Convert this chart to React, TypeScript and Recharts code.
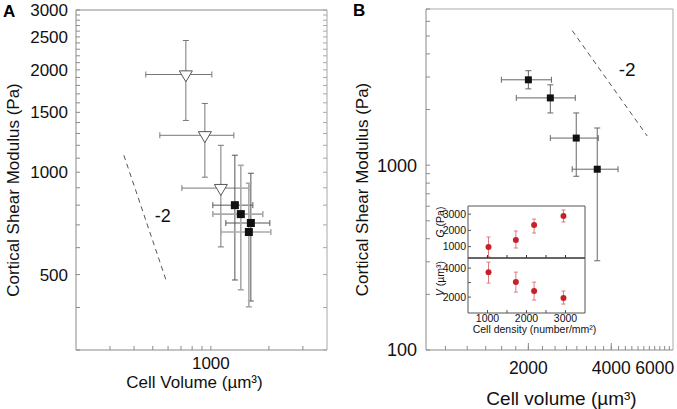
import React from 'react';
import { ScatterChart, Scatter, XAxis, YAxis, ErrorBar, ReferenceLine, ReferenceDot, Label } from 'recharts';

const FONT = '"Liberation Sans", Arial, Helvetica, sans-serif';

// ---------- Panel A data ----------
const aTriVolume = [742, 931, 1127];
const aTriVolumeLow = [460, 544, 708];
const aTriVolumeHigh = [1012, 1316, 1574];
const aTriModulus = [1938, 1284, 898];
const aTriModulusLow = [1420, 967, 603];
const aTriModulusHigh = [2440, 1593, 1200];

const aSqDarkVolume = [1332, 1612];
const aSqDarkVolumeLow = [1024, 1196];
const aSqDarkVolumeHigh = [1651, 2022];
const aSqDarkModulus = [800, 709];
const aSqDarkModulusLow = [482, 418];
const aSqDarkModulusHigh = [1122, 993];

const aSqLightVolume = [1430, 1574];
const aSqLightVolumeLow = [1024, 1127];
const aSqLightVolumeHigh = [1859, 2045];
const aSqLightModulus = [753, 667];
const aSqLightModulusLow = [451, 402];
const aSqLightModulusHigh = [1048, 928];

const aSlopeVolume = [354, 592];
const aSlopeModulus = [1122, 473];
const aSlopeLabelAt = [564, 743];

const aXTicks = [300, 400, 500, 600, 700, 800, 900, 1000, 2000, 3000];
const aXLabels = [1000];
const aYTicks = [300, 400, 500, 600, 700, 800, 900, 1000, 1100, 1200, 1300, 1400, 1500, 1600, 1700, 1800, 1900, 2000, 2100, 2200, 2300, 2400, 2500, 2600, 2700, 2800, 2900, 3000];
const aYLabels = [500, 1000, 1500, 2000, 2500, 3000];

// ---------- Panel B data ----------
const bVolume = [2000, 2403, 2984, 3557];
const bVolumeLow = [1596, 1808, 2403, 2885];
const bVolumeHigh = [2425, 2960, 3587, 4232];
const bModulus = [2897, 2312, 1402, 951];
const bModulusLow = [2588, 1917, 871, 304];
const bModulusHigh = [3245, 2722, 1917, 1589];

const bSlopeVolume = [2885, 5403];
const bSlopeModulus = [5350, 1438];
const bSlopeLabelAt = [4568, 3324];

const bXTicks = [1000, 1200, 1400, 1600, 1800, 2000, 2250, 2500, 2750, 3000, 3250, 3500, 3750, 4000, 4250, 4500, 4750, 5000, 5250, 5500, 5750, 6000, 6250, 6500];
const bXLabels = [2000, 4000, 6000];
const bXMajor = [2000, 4000];
const bYTicks = [100, 200, 300, 400, 500, 600, 700, 800, 900, 1000, 2000, 3000, 4000, 5000, 6000, 7000];
const bYLabels = [100, 1000];

// ---------- Inset data ----------
const density = [1026, 1727, 2195, 2948];
const gModulus = [977, 1408, 2331, 2885];
const gModulusLow = [362, 915, 1838, 2515];
const gModulusHigh = [1592, 1962, 2700, 3254];
const vVolume = [3724, 3034, 2414, 1931];
const vVolumeLow = [2966, 2345, 1793, 1517];
const vVolumeHigh = [4414, 3724, 3034, 2414];

const insetXTicks = [1000, 1500, 2000, 2500, 3000];
const insetXLabels = [1000, 2000, 3000];
const gTicks = [1000, 2000, 3000];
const vTicks = [2000, 3000, 4000];
const vLabels = [2000, 4000];

// ---------- builders ----------
const build = (xs: number[], xl: number[], xh: number[], ys: number[], yl: number[], yh: number[]) =>
  xs.map((x, i) => ({ x, y: ys[i], ex: [x - xl[i], xh[i] - x], ey: [ys[i] - yl[i], yh[i] - ys[i]] }));

const buildY = (xs: number[], ys: number[], yl: number[], yh: number[]) =>
  xs.map((x, i) => ({ x, y: ys[i], ey: [ys[i] - yl[i], yh[i] - ys[i]] }));

const aTri = build(aTriVolume, aTriVolumeLow, aTriVolumeHigh, aTriModulus, aTriModulusLow, aTriModulusHigh);
const aSqDark = build(aSqDarkVolume, aSqDarkVolumeLow, aSqDarkVolumeHigh, aSqDarkModulus, aSqDarkModulusLow, aSqDarkModulusHigh);
const aSqLight = build(aSqLightVolume, aSqLightVolumeLow, aSqLightVolumeHigh, aSqLightModulus, aSqLightModulusLow, aSqLightModulusHigh);
const aSqAll = [...aSqDark, ...aSqLight];
const bSq = build(bVolume, bVolumeLow, bVolumeHigh, bModulus, bModulusLow, bModulusHigh);
const gData = buildY(density, gModulus, gModulusLow, gModulusHigh);
const vData = buildY(density, vVolume, vVolumeLow, vVolumeHigh);

const fmt = (labels: number[]) => (v: number) => (labels.includes(v) ? String(v) : '');

const xTitle = (text: React.ReactNode, dx: number, dy: number, size: number) => (props: any) => {
  const vb = props.viewBox ?? { x: 0, y: 0, width: 0, height: 0 };
  return (
    <text x={vb.x + vb.width / 2 + dx} y={vb.y + dy} textAnchor="middle" dominantBaseline="central" fontSize={size} fontFamily={FONT} fill="#111">
      {text}
    </text>
  );
};

const yTitle = (text: React.ReactNode, dx: number, dy: number, size: number) => (props: any) => {
  const vb = props.viewBox ?? { x: 0, y: 0, width: 0, height: 0 };
  const x = vb.x + dx;
  const y = vb.y + vb.height / 2 + dy;
  return (
    <text x={x} y={y} transform={`rotate(-90, ${x}, ${y})`} textAnchor="middle" dominantBaseline="central" fontSize={size} fontFamily={FONT} fill="#111">
      {text}
    </text>
  );
};

const square = (side: number, fill: string) => (p: any) => (
  <rect x={p.cx - side / 2} y={p.cy - side / 2} width={side} height={side} fill={fill} />
);
const triangleDown = (p: any) => {
  const w = 13;
  const h = 11;
  return (
    <polygon
      points={`${p.cx - w / 2},${p.cy - h / 3} ${p.cx + w / 2},${p.cy - h / 3} ${p.cx},${p.cy + (2 * h) / 3}`}
      fill="#fff"
      stroke="#555"
      strokeWidth={1}
    />
  );
};
const dot = (p: any) => <circle cx={p.cx} cy={p.cy} r={3} fill="#c8202a" />;
const none = () => <g />;

const AX = '#8a8a8a';
const tickStyle = (size: number) => ({ fill: '#111', fontSize: size, fontFamily: FONT, stroke: 'none' });

// bottom tick of panel B: longer mark on majors, outermost label kept inside the picture
const bXTick = (p: any) => {
  const v = p.payload?.value;
  const label = bXLabels.includes(v) ? String(v) : '';
  const shift = v === 6000 ? -5 : 0;
  const axisY = p.y - 12;
  return (
    <g>
      {bXMajor.includes(v) && <line x1={p.x} x2={p.x} y1={axisY} y2={axisY - 7} stroke={AX} />}
      <text x={p.x + shift} y={p.y} dy="0.71em" textAnchor="middle" fontSize={17.5} fontFamily={FONT} fill="#111">
        {label}
      </text>
    </g>
  );
};

export default function App() {
  return (
    <div style={{ position: 'absolute', left: 0, top: 0, width: 677, height: 409, background: '#fff' }}>
      <div style={{ position: 'absolute', left: 3, top: 3, fontFamily: FONT, fontWeight: 700, fontSize: 17, lineHeight: '17px' }}>A</div>
      <div style={{ position: 'absolute', left: 353, top: 2, fontFamily: FONT, fontWeight: 700, fontSize: 17, lineHeight: '17px' }}>B</div>

      {/* Panel A */}
      <div style={{ position: 'absolute', left: 0, top: 0 }}>
        <ScatterChart width={340} height={409} margin={{ top: 9, right: 12, bottom: 0, left: 0 }}>
          <XAxis
            type="number" dataKey="x" scale="log" domain={[200, 4000]} allowDataOverflow
            ticks={aXTicks} interval={0} tickFormatter={fmt(aXLabels)} height={59}
            tickSize={-4} tickMargin={11} stroke={AX} tick={tickStyle(17)}
            label={<Label content={xTitle('Cell Volume (µm³)', -7, 32, 17)} />}
          />
          <XAxis
            xAxisId="top" orientation="top" type="number" scale="log" domain={[200, 4000]} allowDataOverflow
            ticks={aXTicks} interval={0} tickFormatter={() => ''} height={1} tickSize={-4} stroke={AX}
          />
          <YAxis
            type="number" dataKey="y" scale="log" domain={[300, 3000]} allowDataOverflow
            ticks={aYTicks} interval={0} tickFormatter={fmt(aYLabels)} width={76}
            tickSize={-4} tickMargin={12} stroke={AX} tick={tickStyle(17)}
            label={<Label content={yTitle('Cortical Shear Modulus (Pa)', 13, 10, 17)} />}
          />
          <YAxis
            yAxisId="right" orientation="right" type="number" scale="log" domain={[300, 3000]} allowDataOverflow
            ticks={aYTicks} interval={0} tickFormatter={() => ''} width={1} tickSize={-4} stroke="#a8a8a8"
          />
          <ReferenceLine
            segment={[{ x: aSlopeVolume[0], y: aSlopeModulus[0] }, { x: aSlopeVolume[1], y: aSlopeModulus[1] }]}
            stroke="#555" strokeDasharray="5 4" strokeWidth={1}
          />
          <ReferenceDot x={aSlopeLabelAt[0]} y={aSlopeLabelAt[1]} r={0} fill="none" stroke="none"
            label={{ value: '-2', position: 'center', fontSize: 18, fill: '#111', fontFamily: FONT }} />
          <Scatter data={aTri} shape={triangleDown} isAnimationActive={false}>
            <ErrorBar dataKey="ex" direction="x" width={3} stroke="#777" strokeWidth={1} />
            <ErrorBar dataKey="ey" direction="y" width={3} stroke="#777" strokeWidth={1} />
          </Scatter>
          <Scatter data={aSqDark} shape={none} isAnimationActive={false}>
            <ErrorBar dataKey="ex" direction="x" width={3} stroke="#555" strokeWidth={1} />
            <ErrorBar dataKey="ey" direction="y" width={3} stroke="#555" strokeWidth={1} />
          </Scatter>
          <Scatter data={aSqLight} shape={none} isAnimationActive={false}>
            <ErrorBar dataKey="ex" direction="x" width={3} stroke="#aaa" strokeWidth={1.6} />
            <ErrorBar dataKey="ey" direction="y" width={3} stroke="#aaa" strokeWidth={1.6} />
          </Scatter>
          <Scatter data={aSqAll} shape={square(8, '#111')} isAnimationActive={false} />
        </ScatterChart>
      </div>

      {/* Panel B */}
      <div style={{ position: 'absolute', left: 340, top: 0 }}>
        <ScatterChart width={337} height={409} margin={{ top: 8, right: 3, bottom: 0, left: 0 }}>
          <XAxis
            type="number" dataKey="x" scale="log" domain={[850, 6700]} allowDataOverflow
            ticks={bXTicks} interval={0} height={59}
            tickSize={-4} tickMargin={16} stroke={AX} tick={bXTick}
            label={<Label content={xTitle('Cell volume (µm³)', 12, 48, 19)} />}
          />
          <XAxis
            xAxisId="top" orientation="top" type="number" scale="log" domain={[850, 6700]} allowDataOverflow
            ticks={[1000]} tickLine={false} tickFormatter={() => ''} height={1} stroke="#aaa"
          />
          <YAxis
            type="number" dataKey="y" scale="log" domain={[100, 7000]} allowDataOverflow
            ticks={bYTicks} interval={0} tickFormatter={fmt(bYLabels)} width={86}
            tickSize={-4} tickMargin={13} stroke={AX} tick={tickStyle(18)}
            label={<Label content={yTitle('Cortical Shear Modulus (Pa)', 22, 10, 17)} />}
          />
          <YAxis
            yAxisId="right" orientation="right" type="number" scale="log" domain={[100, 7000]} allowDataOverflow
            ticks={[1000]} tickLine={false} tickFormatter={() => ''} width={1} stroke="#aaa"
          />
          <ReferenceLine
            segment={[{ x: bSlopeVolume[0], y: bSlopeModulus[0] }, { x: bSlopeVolume[1], y: bSlopeModulus[1] }]}
            stroke="#555" strokeDasharray="5 4" strokeWidth={1}
          />
          <ReferenceDot x={bSlopeLabelAt[0]} y={bSlopeLabelAt[1]} r={0} fill="none" stroke="none"
            label={{ value: '-2', position: 'center', fontSize: 19, fill: '#111', fontFamily: FONT }} />
          <Scatter data={bSq} shape={square(7, '#111')} isAnimationActive={false}>
            <ErrorBar dataKey="ex" direction="x" width={3} stroke="#666" strokeWidth={1} />
            <ErrorBar dataKey="ey" direction="y" width={3} stroke="#666" strokeWidth={1} />
          </Scatter>
        </ScatterChart>
      </div>

      {/* Inset top: G */}
      <div style={{ position: 'absolute', left: 420, top: 196 }}>
        <ScatterChart width={200} height={64} margin={{ top: 9, right: 34, bottom: 1, left: 0 }}>
          <XAxis
            type="number" dataKey="x" domain={[500, 3500]} allowDataOverflow ticks={insetXTicks} interval={0}
            tickFormatter={() => ''} height={1} tickSize={-3} stroke="#333"
          />
          <XAxis xAxisId="top" orientation="top" type="number" domain={[500, 3500]} allowDataOverflow
            ticks={[1000]} tickLine={false} tickFormatter={() => ''} height={1} stroke="#555" />
          <YAxis
            type="number" dataKey="y" domain={[300, 3500]} allowDataOverflow ticks={gTicks} interval={0}
            width={48} tickSize={-3} tickMargin={5} stroke="#555" tick={tickStyle(10.5)}
            label={<Label content={yTitle(<><tspan fontStyle="italic">G</tspan> (Pa)</>, 20, -10, 10.5)} />}
          />
          <YAxis yAxisId="right" orientation="right" type="number" domain={[300, 3500]} allowDataOverflow
            ticks={[1000]} tickLine={false} tickFormatter={() => ''} width={1} stroke="#555" />
          <Scatter data={gData} shape={dot} isAnimationActive={false}>
            <ErrorBar dataKey="ey" direction="y" width={2} stroke="#dd7a80" strokeWidth={1} />
          </Scatter>
        </ScatterChart>
      </div>

      {/* Inset bottom: V */}
      <div style={{ position: 'absolute', left: 420, top: 256 }}>
        <ScatterChart width={200} height={82} margin={{ top: 1, right: 34, bottom: 0, left: 0 }}>
          <XAxis
            type="number" dataKey="x" domain={[500, 3500]} allowDataOverflow ticks={insetXTicks} interval={0}
            tickFormatter={fmt(insetXLabels)} height={25} tickSize={-3} tickMargin={5}
            stroke="#555" tick={tickStyle(10.5)}
            label={<Label content={xTitle(<>Cell density (number/mm²)</>, 8, 16, 10.5)} />}
          />
          <XAxis xAxisId="top" orientation="top" type="number" domain={[500, 3500]} allowDataOverflow
            ticks={[1000]} tickLine={false} tickFormatter={() => ''} height={1} stroke="#333" />
          <YAxis
            type="number" dataKey="y" domain={[900, 4700]} allowDataOverflow ticks={vTicks} interval={0}
            tickFormatter={fmt(vLabels)} width={48} tickSize={-3} tickMargin={5}
            stroke="#555" tick={tickStyle(10.5)}
            label={<Label content={yTitle(<><tspan fontStyle="italic">V</tspan> (µm³)</>, 20, -7, 10.5)} />}
          />
          <YAxis yAxisId="right" orientation="right" type="number" domain={[900, 4700]} allowDataOverflow
            ticks={[1000]} tickLine={false} tickFormatter={() => ''} width={1} stroke="#555" />
          <Scatter data={vData} shape={dot} isAnimationActive={false}>
            <ErrorBar dataKey="ey" direction="y" width={2} stroke="#dd7a80" strokeWidth={1} />
          </Scatter>
        </ScatterChart>
      </div>
    </div>
  );
}
